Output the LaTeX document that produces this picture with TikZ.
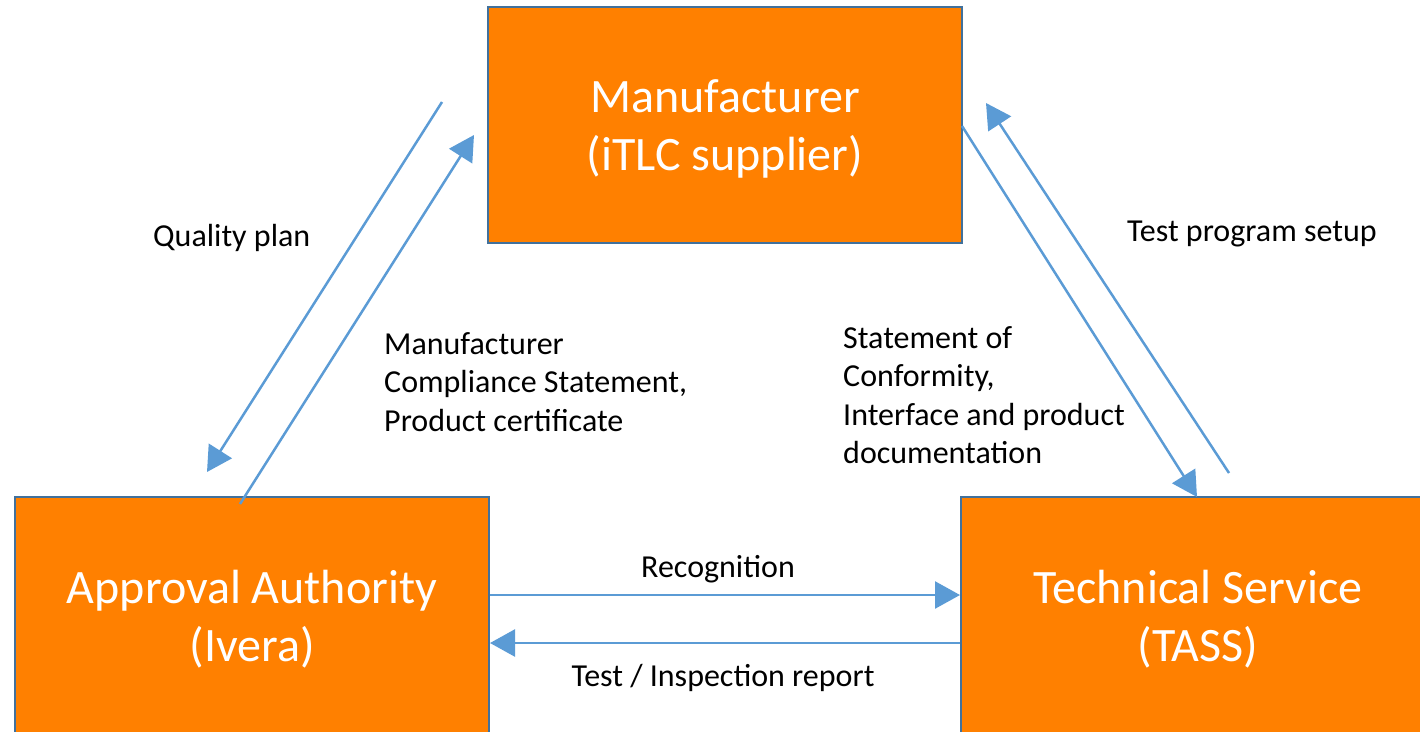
\documentclass[tikz,border=0pt]{standalone}
\usepackage{fontspec}
\setmainfont{Carlito}
\usetikzlibrary{arrows.meta,calc}
\definecolor{boxfill}{HTML}{FF8000}
\definecolor{boxline}{HTML}{41719C}
\definecolor{arr}{HTML}{5B9BD5}
\begin{document}
\begin{tikzpicture}[x=1pt,y=-1pt,
  entity/.style={draw=boxline, line width=2pt, fill=boxfill,
    minimum width=474pt, minimum height=236pt, inner sep=0pt},
  etext/.style={text=white, inner sep=0pt, align=center,
    font=\fontsize{48}{58}\selectfont},
  lbl/.style={inner sep=0pt, align=left, font=\fontsize{32}{38.5}\selectfont},
  flow/.style={draw=arr, line width=2.5pt, -{Triangle[length=25pt,width=27pt]}}]
\useasboundingbox (0,0) rectangle (1420,731);
\clip (0,0) rectangle (1420,731);
% entities
\node[entity] (mf) at (725,125) {};
\node[entity] (aa) at (252,615) {};
\node[entity] (ts) at (1198,615) {};
\node[etext] (mft) at ([yshift=-4pt]mf.center) {Manufacturer\\(iTLC supplier)};
\node[etext] (aat) at ([yshift=-4pt]aa.center) {Approval Authority\\(Ivera)};
\node[etext] (tst) at ([yshift=-4pt]ts.center) {Technical Service\\(TASS)};
% free ends of diagonal connectors
\coordinate (qpS) at (442,102);
\coordinate (qpE) at (207,472);
\coordinate (mcS) at (240,504);
\coordinate (mcE) at (474,135);
\coordinate (scS) at (962,126);
\coordinate (scE) at (1197,497);
\coordinate (tpS) at (1229,473);
\coordinate (tpE) at (986,103);
\coordinate (recY) at (0,595);
\coordinate (repY) at (0,643);
% connectors
\draw[flow] (qpS) -- (qpE);
\draw[flow] (mcS) -- (mcE);
\draw[flow] (scS) -- (scE);
\draw[flow] (tpS) -- (tpE);
\draw[flow] (aa.east |- recY) -- (ts.west |- recY);
\draw[flow] (ts.west |- repY) -- (aa.east |- repY);
% labels
\node[lbl, anchor=west] (lqp) at (153,238) {Quality plan};
\node[lbl, anchor=west] (lmc) at (384,382) {Manufacturer\\Compliance Statement,\\Product certificate};
\node[lbl, anchor=west] (lsc) at (843,395) {Statement of\\Conformity,\\Interface and product\\documentation};
\node[lbl, anchor=west] (ltp) at (1127,234) {Test program setup};
\node[lbl] (lrec) at (718,569) {Recognition};
\node[lbl] (lrep) at (723,678) {Test / Inspection report};
\end{tikzpicture}
\end{document}
